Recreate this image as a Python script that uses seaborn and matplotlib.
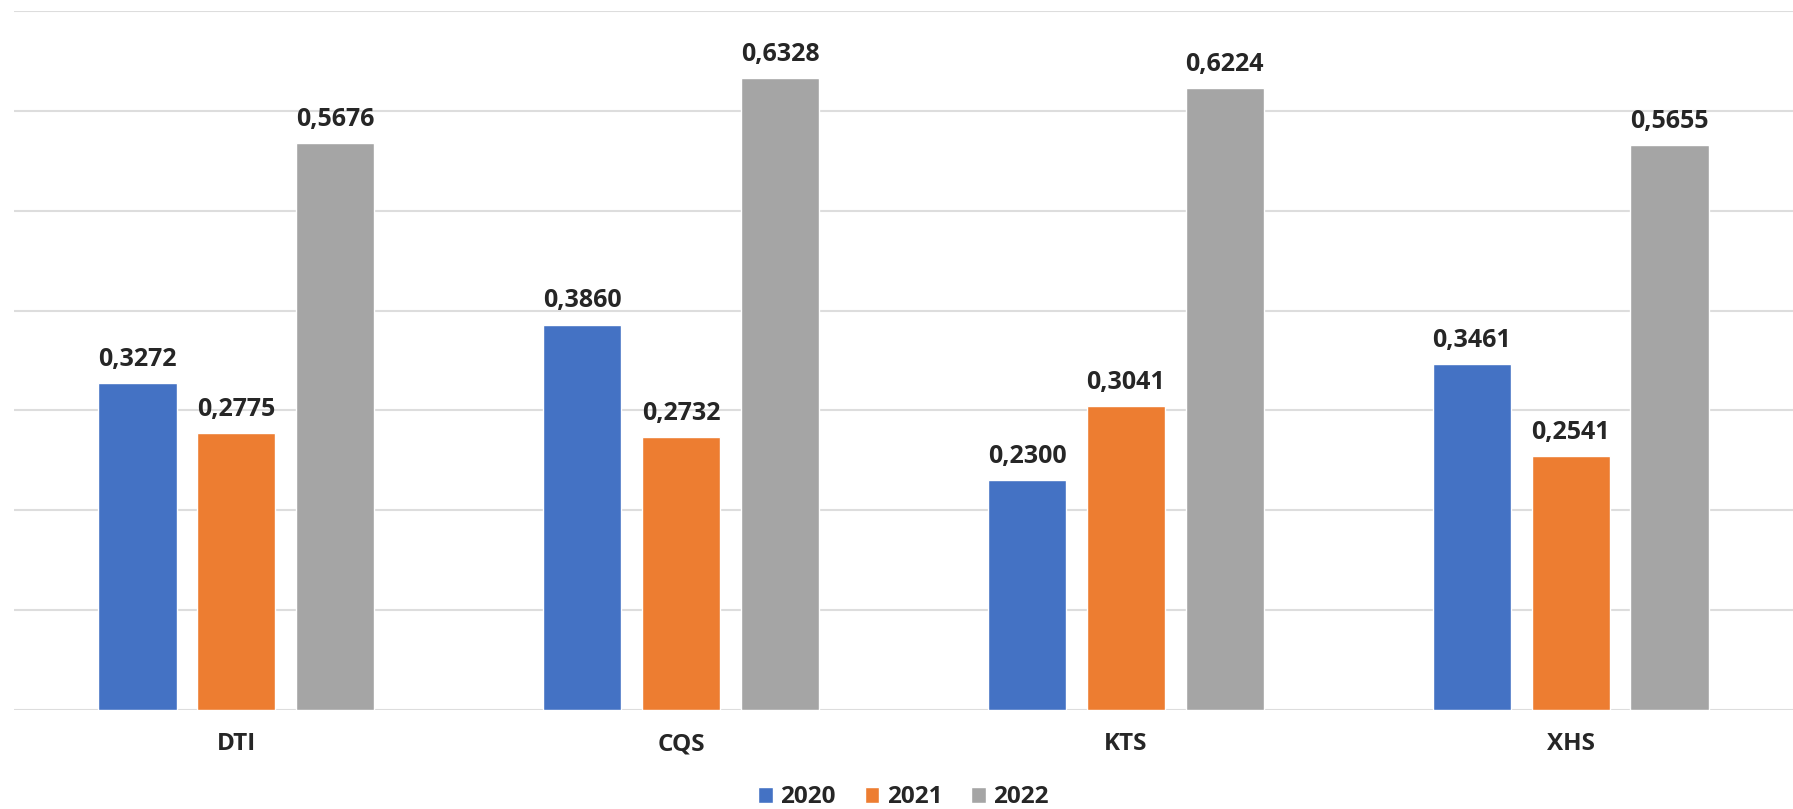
import seaborn as sns
import pandas as pd
import matplotlib.pyplot as plt

# Data
categories = ['DTI', 'CQS', 'KTS', 'XHS']
years = ['2020', '2021', '2022']
values_2020 = [0.3272, 0.3860, 0.2300, 0.3461]
values_2021 = [0.2775, 0.2732, 0.3041, 0.2541]
values_2022 = [0.5676, 0.6328, 0.6224, 0.5655]
colors = ['#4472C4', '#ED7D31', '#A5A5A5']

df = pd.DataFrame({
    'category': categories * 3,
    'year': [y for y in years for _ in categories],
    'value': values_2020 + values_2021 + values_2022,
})

sns.set_style('white')
plt.rcParams['font.family'] = ['Open Sans', 'DejaVu Sans']

fig = plt.figure(figsize=(17.93, 8.09), dpi=100)
ax = fig.add_axes([14 / 1793, 1 - 710 / 809, 1 - 14 / 1793, 699 / 809])

sns.barplot(data=df, x='category', y='value', hue='year', palette=colors,
            saturation=1, width=0.667, gap=0.21, ax=ax, legend=True)

ax.set_ylim(0, 0.7)
ax.set_xlim(-0.5, 3.5)
ax.set_yticks([i / 10 for i in range(8)])
ax.yaxis.grid(True, color='#DDDDDD', linewidth=1.5)
ax.set_axisbelow(True)
ax.tick_params(axis='y', left=False, labelleft=False)
ax.tick_params(axis='x', length=0, pad=16)
for lab in ax.get_xticklabels():
    lab.set_fontsize(17.5)
    lab.set_fontweight('bold')
ax.set_xlabel('')
ax.set_ylabel('')
for s in ax.spines.values():
    s.set_visible(False)

# value labels with comma decimal separator
for cont in ax.containers:
    labels = [f'{b.get_height():.4f}'.replace('.', ',') for b in cont]
    ax.bar_label(cont, labels=labels, padding=8, fontsize=18, fontweight='bold')

handles, labs = ax.get_legend_handles_labels()
ax.legend(handles, labs, loc='center', bbox_to_anchor=(0.5, -0.125),
          ncol=3, frameon=False, prop={'weight': 'bold', 'size': 17.5},
          handlelength=0.6, handleheight=0.6, handletextpad=0.3, columnspacing=1.2)

fig.savefig('out.png', dpi=100)
